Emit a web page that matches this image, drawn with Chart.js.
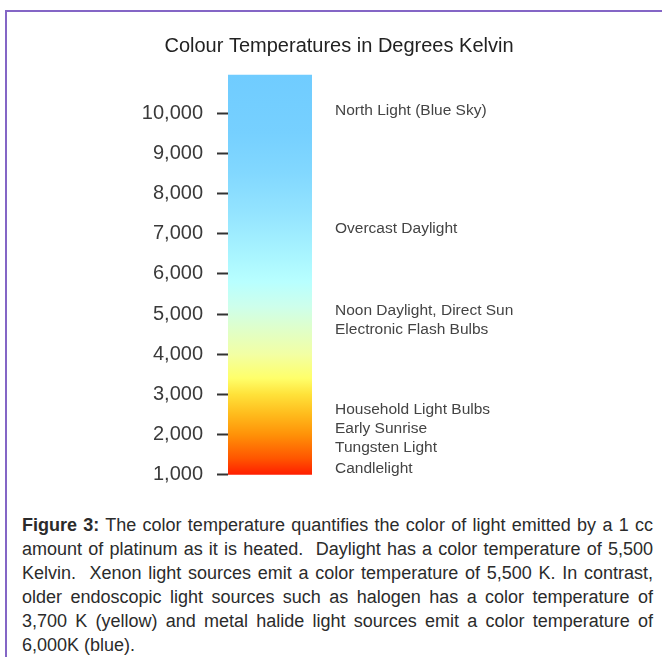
<!DOCTYPE html>
<html><head><meta charset="utf-8">
<script src="https://cdn.jsdelivr.net/npm/chart.js@4"></script>
<style>
html,body{margin:0;padding:0;background:#fff;overflow:hidden;}
body{width:662px;height:657px;position:relative;font-family:"Liberation Sans",Arial,sans-serif;}
#frame{position:absolute;left:5px;top:10px;width:720px;height:720px;border-top:2px solid #8466c6;border-left:2px solid #8466c6;}
#wrap{position:absolute;left:0;top:0;width:662px;height:507px;}
#caption{position:absolute;left:22px;top:513px;width:631px;font-size:18px;line-height:24px;color:#2b2b2b;}
#caption div{text-align:justify;text-align-last:justify;}
#caption div.last{text-align:left;text-align-last:left;}
</style></head><body>
<div id="frame"></div>
<div id="wrap"><canvas id="c"></canvas></div>
<div id="caption">
<div><b>Figure 3:</b> The color temperature quantifies the color of light emitted by a 1 cc</div>
<div>amount of platinum as it is heated.&nbsp; Daylight has a color temperature of 5,500</div>
<div>Kelvin.&nbsp; Xenon light sources emit a color temperature of 5,500 K. In contrast,</div>
<div>older endoscopic light sources such as halogen has a color temperature of</div>
<div>3,700 K (yellow) and metal halide light sources emit a color temperature of</div>
<div class="last">6,000K (blue).</div>
</div>
<script>
// ---- data ----
const categories = ['Colour temperature'];
const barRange = [1000, 10950];
const tickValues = [1000, 2000, 3000, 4000, 5000, 6000, 7000, 8000, 9000, 10000];
const sourceLabels = ['North Light (Blue Sky)', 'Overcast Daylight', 'Noon Daylight, Direct Sun', 'Electronic Flash Bulbs', 'Household Light Bulbs', 'Early Sunrise', 'Tungsten Light', 'Candlelight'];
const sourceValues = [10050, 7125, 5070, 4600, 2630, 2140, 1660, 1160];

// ---- style ----
const gradientStops = [
  [1000, '#ff1e00'], [1400, '#ff5500'], [2000, '#ff9208'], [2500, '#ffbb1c'],
  [3000, '#ffe23a'], [3400, '#ffff6a'], [4000, '#f2ffa4'], [4600, '#e0ffc8'],
  [5200, '#cdffec'], [5800, '#b8ffff'], [6500, '#a8f4ff'], [7500, '#94e4ff'],
  [8500, '#82d8ff'], [9500, '#76d0ff'], [10950, '#70ccff']
];
const FONT = '"Liberation Sans", Arial, sans-serif';
Chart.defaults.font.family = FONT;

function barGradient(c) {
  const ch = c.chart;
  const { ctx, chartArea, scales } = ch;
  if (!chartArea) return '#ffcc00';
  const y0 = scales.y.getPixelForValue(barRange[0]);
  const y1 = scales.y.getPixelForValue(barRange[1]);
  const g = ctx.createLinearGradient(0, y0, 0, y1);
  gradientStops.forEach(([v, col]) => {
    const t = Math.min(1, Math.max(0, (v - barRange[0]) / (barRange[1] - barRange[0])));
    g.addColorStop(t, col);
  });
  return g;
}

new Chart(document.getElementById('c'), {
  type: 'bar',
  data: {
    labels: categories,
    datasets: [{
      data: [barRange],
      backgroundColor: barGradient,
      borderWidth: 0,
      barPercentage: 1,
      categoryPercentage: 1
    }]
  },
  options: {
    responsive: true,
    maintainAspectRatio: false,
    animation: false,
    layout: { padding: { left: 116, right: 100, top: 0, bottom: 16 } },
    plugins: {
      legend: { display: false },
      tooltip: { enabled: false },
      title: {
        display: true,
        text: 'Colour Temperatures in Degrees Kelvin',
        color: '#222',
        font: { family: FONT, size: 20, weight: 'normal' },
        padding: { top: 34, bottom: 15 }
      }
    },
    scales: {
      x: { display: false },
      y: {
        position: 'left',
        min: 1000, max: 11000,
        afterBuildTicks: s => { s.ticks = tickValues.map(v => ({ value: v })); },
        afterFit: s => { s.width = 112; },
        grid: { display: true, drawOnChartArea: false, drawTicks: true, tickLength: 11, tickWidth: 2, tickColor: '#333' },
        border: { display: false },
        ticks: { padding: 14, autoSkip: false, color: '#3a3a3a', font: { size: 20 }, callback: v => Number(v).toLocaleString('en-US') }
      },
      y2: {
        position: 'right',
        min: 1000, max: 11000,
        afterBuildTicks: s => { s.ticks = sourceValues.map(v => ({ value: v })); },
        afterFit: s => { s.width = 250; },
        grid: { display: false, drawTicks: false },
        border: { display: false },
        ticks: { padding: 23, autoSkip: false, color: '#444', font: { size: 15.5 }, callback: v => sourceLabels[sourceValues.indexOf(v)] }
      }
    }
  }
});
</script>
</body></html>
